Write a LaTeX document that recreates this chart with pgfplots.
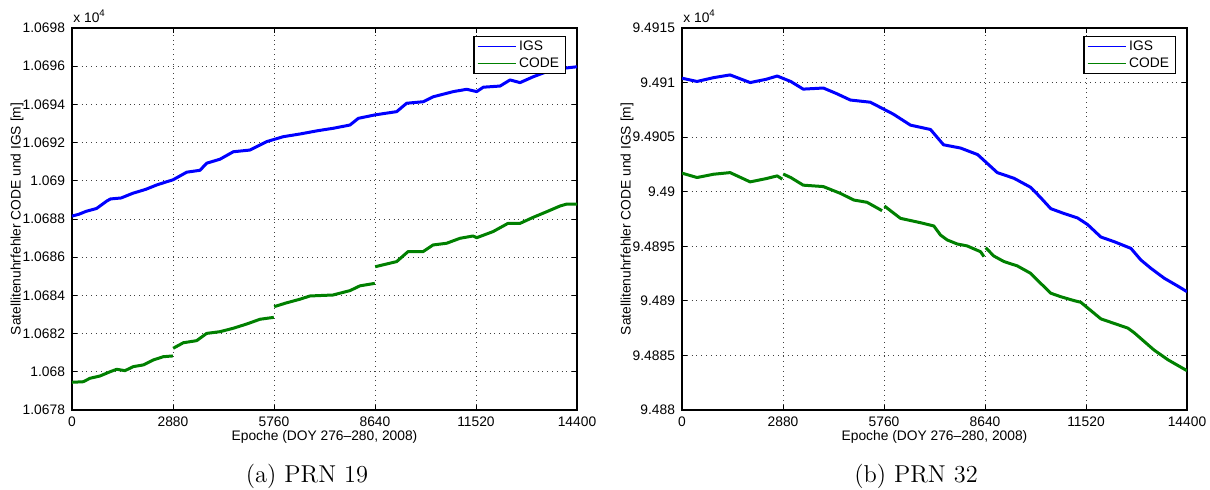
\documentclass[border=0pt]{standalone}
\usepackage{pgfplots}
\pgfplotsset{compat=1.18}
\usepackage{fontspec}
\newfontfamily\hv{Liberation Sans}
\newcommand\af{\hv\fontsize{6.9}{8.2}\selectfont}
\definecolor{mblue}{RGB}{0,0,255}
\definecolor{mgreen}{RGB}{0,128,0}

\pgfplotsset{
  mstyle/.style={
    scale only axis, width=252.5pt, height=191pt,
    xmin=0, xmax=14400,
    scaled x ticks=false, scaled y ticks=false,
    xtick={0,2880,5760,8640,11520,14400},
    xticklabels={0,2880,5760,8640,11520,14400},
    tick align=inside, tickpos=both,
    major tick length=2.5pt,
    tick style={black, line width=0.4pt},
    grid=major,
    major grid style={dotted, black!75, line width=0.45pt},
    axis line style={line width=0.6pt},
    tick label style={font=\af},
    label style={font=\af},
    xlabel={Epoche (DOY 276–280, 2008)},
    ylabel={Satellitenuhrfehler CODE und IGS [m]},
    xlabel style={at={(axis description cs:0.5,0)}, anchor=base, yshift=-15.5pt},
    ylabel style={at={(axis description cs:-0.109,0.5)}, anchor=center},
    unbounded coords=jump,
    legend cell align=left,
    legend style={at={(rel axis cs:0.978,0.979)}, anchor=north east,
      draw=black, line width=0.6pt, font=\af, fill=white,
      inner xsep=1.5pt, inner ysep=0.3pt, row sep=-1pt,
      nodes={inner sep=1.6pt}},
    legend image code/.code={\draw[#1, line width=0.5pt] (0pt,0pt) -- (19pt,0pt);},
    extra description/.code={
      \node[anchor=base west, font=\af, inner sep=0pt, yshift=2.5pt, xshift=0.5pt] at (0,1) {x 10\textsuperscript{4}};
    },
  },
  dline/.style={line width=1.5pt, line join=round},
}

\begin{document}
\begin{tikzpicture}
\useasboundingbox (0,0) rectangle (605pt,245pt);

% ---------------- (a) PRN 19 ----------------
\begin{axis}[mstyle,
  at={(36pt,40pt)}, anchor=south west,
  ymin=10678, ymax=10698,
  ytick={10678,10680,10682,10684,10686,10688,10690,10692,10694,10696,10698},
  yticklabels={1.0678,1.068,1.0682,1.0684,1.0686,1.0688,1.069,1.0692,1.0694,1.0696,1.0698},
]
\addplot[mblue, dline] table[row sep=\\] {
x y\\
0 10688.15\\ 200 10688.25\\ 400 10688.40\\ 700 10688.55\\ 1000 10688.95\\
1100 10689.05\\ 1400 10689.10\\ 1740 10689.35\\ 2100 10689.55\\ 2414 10689.78\\
2700 10689.95\\ 2880 10690.05\\ 3270 10690.45\\ 3650 10690.55\\ 3840 10690.92\\
4220 10691.13\\ 4600 10691.52\\ 5075 10691.61\\ 5550 10692.05\\ 6026 10692.31\\
6500 10692.45\\ 7000 10692.62\\ 7451 10692.75\\ 7927 10692.92\\ 8164 10693.27\\
8640 10693.45\\ 9000 10693.55\\ 9258 10693.62\\ 9543 10694.06\\ 10018 10694.14\\
10303 10694.40\\ 10874 10694.67\\ 11255 10694.79\\ 11540 10694.67\\ 11730 10694.90\\
12206 10694.96\\ 12491 10695.28\\ 12776 10695.14\\ 13156 10695.45\\ 13536 10695.71\\
14011 10695.89\\ 14400 10695.97\\
};
\addlegendentry{IGS}
\addplot[mgreen, dline] table[row sep=\\] {
x y\\
0 10679.45\\ 322 10679.48\\ 513 10679.66\\ 798 10679.78\\ 1083 10680.00\\
1274 10680.13\\ 1511 10680.06\\ 1749 10680.27\\ 2034 10680.36\\ 2319 10680.62\\
2604 10680.79\\ 2875 10680.83\\
2877 nan\\
2885 10681.23\\ 3174 10681.52\\ 3555 10681.63\\ 3840 10682.01\\ 4220 10682.10\\
4600 10682.28\\ 4980 10682.50\\ 5360 10682.75\\ 5755 10682.85\\
5757 nan\\
5765 10683.41\\ 6100 10683.60\\ 6500 10683.80\\ 6787 10683.97\\ 7440 10684.02\\
7927 10684.25\\ 8212 10684.50\\ 8635 10684.63\\
8637 nan\\
8645 10685.50\\ 9258 10685.77\\ 9581 10686.29\\ 10009 10686.29\\ 10294 10686.64\\
10684 10686.73\\ 11065 10686.99\\ 11436 10687.11\\ 11540 10687.02\\ 12006 10687.34\\
12432 10687.77\\ 12774 10687.77\\ 13155 10688.09\\ 13535 10688.38\\ 13916 10688.68\\
14106 10688.78\\ 14400 10688.78\\
};
\addlegendentry{CODE}
\end{axis}

% ---------------- (b) PRN 32 ----------------
\begin{axis}[mstyle,
  at={(341pt,40pt)}, anchor=south west,
  ymin=94880, ymax=94915,
  ytick={94880,94885,94890,94895,94900,94905,94910,94915},
  yticklabels={9.488,9.4885,9.489,9.4895,9.49,9.4905,9.491,9.4915},
]
\addplot[mblue, dline] table[row sep=\\] {
x y\\
0 94910.40\\ 428 94910.10\\ 900 94910.45\\ 1371 94910.70\\ 1943 94910.00\\
2400 94910.30\\ 2714 94910.60\\ 3100 94910.10\\ 3457 94909.40\\ 4030 94909.50\\
4400 94909.00\\ 4800 94908.40\\ 5370 94908.20\\ 6030 94907.10\\ 6514 94906.10\\
7086 94905.70\\ 7457 94904.30\\ 7943 94904.00\\ 8430 94903.40\\ 8990 94901.75\\
9467 94901.23\\ 9943 94900.40\\ 10229 94899.45\\ 10514 94898.45\\ 10895 94898.00\\
11276 94897.60\\ 11562 94897.00\\ 11943 94895.85\\ 12324 94895.42\\ 12800 94894.81\\
13086 94893.74\\ 13371 94892.98\\ 13752 94892.07\\ 14133 94891.36\\ 14400 94890.84\\
};
\addlegendentry{IGS}
\addplot[mgreen, dline] table[row sep=\\] {
x y\\
0 94901.70\\ 428 94901.30\\ 900 94901.60\\ 1371 94901.75\\ 1943 94900.90\\
2400 94901.20\\ 2714 94901.45\\ 2860 94901.15\\
2870 nan\\
2885 94901.62\\ 3100 94901.30\\ 3457 94900.60\\ 4030 94900.47\\ 4514 94899.85\\
4895 94899.24\\ 5276 94899.03\\ 5705 94898.26\\
5740 nan\\
5771 94898.69\\ 6229 94897.56\\ 6800 94897.16\\ 7181 94896.86\\ 7371 94896.03\\
7562 94895.58\\ 7848 94895.21\\ 8133 94895.03\\ 8514 94894.50\\ 8609 94894.05\\
8630 nan\\
8657 94894.87\\ 8895 94894.10\\ 9180 94893.60\\ 9562 94893.20\\ 9943 94892.52\\
10229 94891.60\\ 10514 94890.70\\ 10800 94890.38\\ 11181 94890.02\\ 11371 94889.87\\
11752 94888.86\\ 11943 94888.35\\ 12714 94887.50\\ 12886 94887.10\\ 13457 94885.50\\
13857 94884.60\\ 14400 94883.60\\
};
\addlegendentry{CODE}
\end{axis}

% captions
\node[anchor=base, font=\fontsize{12.2}{14}\selectfont, inner sep=0pt] at (153.5pt,3.5pt) {(a) PRN 19};
\node[anchor=base, font=\fontsize{12.2}{14}\selectfont, inner sep=0pt] at (458pt,3.5pt) {(b) PRN 32};
\end{tikzpicture}
\end{document}
